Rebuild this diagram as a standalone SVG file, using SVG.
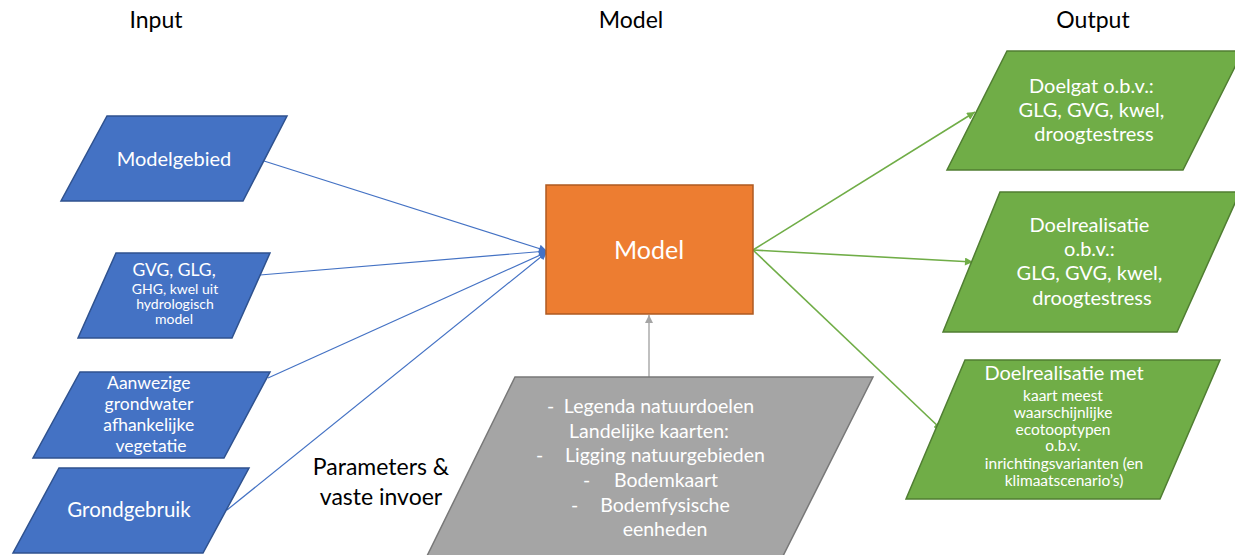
<svg xmlns="http://www.w3.org/2000/svg" width="1235" height="555" viewBox="0 0 1235 555">
  <style>
    text { font-family: Lato, "Open Sans", "Liberation Sans", sans-serif; }
    .hdr { font-size: 23px; fill: #000; text-anchor: middle; }
    .lbl { fill: #fff; text-anchor: middle; }
    .blue { fill: #4472C4; stroke: #2F528F; stroke-width: 1.5; }
    .green { fill: #70AD47; stroke: #507E32; stroke-width: 1.5; }
    .orange { fill: #ED7D31; stroke: #AE5A21; stroke-width: 1.5; }
    .grey { fill: #A5A5A5; stroke: #787878; stroke-width: 1.5; }
    .c-blue { stroke: #4472C4; stroke-width: 1.2; fill: none; }
    .c-green { stroke: #70AD47; stroke-width: 1.6; fill: none; }
    .c-grey { stroke: #A5A5A5; stroke-width: 1.4; fill: none; }
  </style>
  <defs>
    <marker id="ah-blue" viewBox="0 0 10 10" refX="10" refY="5" markerWidth="9" markerHeight="8" markerUnits="userSpaceOnUse" orient="auto">
      <path d="M0,0 L10,5 L0,10 z" fill="#4472C4"/>
    </marker>
    <marker id="ah-green" viewBox="0 0 10 10" refX="10" refY="5" markerWidth="9" markerHeight="8" markerUnits="userSpaceOnUse" orient="auto">
      <path d="M0,0 L10,5 L0,10 z" fill="#70AD47"/>
    </marker>
    <marker id="ah-grey" viewBox="0 0 10 10" refX="10" refY="5" markerWidth="9" markerHeight="8" markerUnits="userSpaceOnUse" orient="auto">
      <path d="M0,0 L10,5 L0,10 z" fill="#A5A5A5"/>
    </marker>
  </defs>

  <rect width="1235" height="555" fill="#fff"/>

  <!-- column headings -->
  <g id="headings">
    <text class="hdr" x="156" y="28">Input</text>
    <text class="hdr" x="631" y="28">Model</text>
    <text class="hdr" x="1093" y="28">Output</text>
  </g>

  <!-- connectors -->
  <g id="connectors">
    <line class="c-blue" x1="264" y1="161" x2="547" y2="251" marker-end="url(#ah-blue)"/>
    <line class="c-blue" x1="260" y1="275" x2="547" y2="251" marker-end="url(#ah-blue)"/>
    <line class="c-blue" x1="268" y1="378" x2="547" y2="252" marker-end="url(#ah-blue)"/>
    <line class="c-blue" x1="227" y1="510" x2="547" y2="252" marker-end="url(#ah-blue)"/>
    <line class="c-green" x1="753" y1="250" x2="975" y2="112" marker-end="url(#ah-green)"/>
    <line class="c-green" x1="753" y1="250" x2="973" y2="262" marker-end="url(#ah-green)"/>
    <line class="c-green" x1="753" y1="250" x2="942" y2="430" marker-end="url(#ah-green)"/>
    <line class="c-grey" x1="649" y1="377" x2="649" y2="315" marker-end="url(#ah-grey)"/>
  </g>

  <!-- inputs -->
  <g id="modelgebied">
    <polygon class="blue" points="107,116 287,116 243,201 61,201"/>
    <text class="lbl" x="174" y="166" font-size="20">Modelgebied</text>
  </g>
  <g id="hydrologie">
    <polygon class="blue" points="116,253 270,253 232,338 78,338"/>
    <text class="lbl" x="174" y="276" font-size="17.5">GVG, GLG,</text>
    <text class="lbl" x="175" y="294" font-size="14">GHG,  kwel uit</text>
    <text class="lbl" x="175" y="309" font-size="14">hydrologisch</text>
    <text class="lbl" x="174" y="324" font-size="14">model</text>
  </g>
  <g id="vegetatie">
    <polygon class="blue" points="80,372 270,372 224,458 33,458"/>
    <text class="lbl" font-size="17.5">
      <tspan x="151" y="389">Aanwezige</tspan>
      <tspan x="151" y="410">grondwater</tspan>
      <tspan x="151" y="431">afhankelijke</tspan>
      <tspan x="151" y="452">vegetatie</tspan>
    </text>
  </g>
  <g id="grondgebruik">
    <polygon class="blue" points="59,468 249,468 203,553 13,553"/>
    <text class="lbl" x="129" y="517" font-size="20.5">Grondgebruik</text>
  </g>

  <!-- model -->
  <g id="model">
    <rect class="orange" x="546" y="185" width="207" height="129"/>
    <text class="lbl" x="649" y="259" font-size="25">Model</text>
  </g>

  <!-- fixed parameters -->
  <g id="parameters">
    <text x="381" y="475" font-size="23" fill="#000" text-anchor="middle">Parameters &amp;</text>
    <text x="381" y="505" font-size="23" fill="#000" text-anchor="middle">vaste invoer</text>
    <polygon class="grey" points="515,377 873,377 783,556 427,556"/>
    <g fill="#fff" font-size="19.5">
      <text x="547" y="413">-</text>
      <text x="659" y="413" text-anchor="middle">Legenda natuurdoelen</text>
      <text x="649" y="438" text-anchor="middle">Landelijke kaarten:</text>
      <text x="536" y="462">-</text>
      <text x="665" y="462" text-anchor="middle">Ligging natuurgebieden</text>
      <text x="583" y="487">-</text>
      <text x="666" y="487" text-anchor="middle">Bodemkaart</text>
      <text x="571" y="512">-</text>
      <text x="665" y="512" text-anchor="middle">Bodemfysische</text>
      <text x="665" y="536" text-anchor="middle">eenheden</text>
    </g>
  </g>

  <!-- outputs -->
  <g id="doelgat">
    <polygon class="green" points="1007,51 1243,51 1183,170 947,170"/>
    <text class="lbl" font-size="20">
      <tspan x="1094" y="93">Doelgat o.b.v.:</tspan>
      <tspan x="1094" y="117">GLG, GVG, kwel,</tspan>
      <tspan x="1094" y="141">droogtestress</tspan>
    </text>
  </g>
  <g id="doelrealisatie">
    <polygon class="green" points="1000,192 1240,192 1177,332 943,332"/>
    <text class="lbl" font-size="20">
      <tspan x="1092" y="232">Doelrealisatie</tspan>
      <tspan x="1092" y="256">o.b.v.:</tspan>
      <tspan x="1092" y="280">GLG, GVG, kwel,</tspan>
      <tspan x="1092" y="305">droogtestress</tspan>
    </text>
  </g>
  <g id="ecotooptypen">
    <polygon class="green" points="965,360 1220,360 1160,499 906,499"/>
    <text class="lbl" x="1064" y="380" font-size="20">Doelrealisatie met</text>
    <text class="lbl" font-size="15.5">
      <tspan x="1065" y="401">kaart meest</tspan>
      <tspan x="1065" y="418">waarschijnlijke</tspan>
      <tspan x="1065" y="435">ecotooptypen</tspan>
      <tspan x="1065" y="451">o.b.v.</tspan>
      <tspan x="1066" y="469">inrichtingsvarianten (en</tspan>
      <tspan x="1064" y="486">klimaatscenario’s)</tspan>
    </text>
  </g>
</svg>
